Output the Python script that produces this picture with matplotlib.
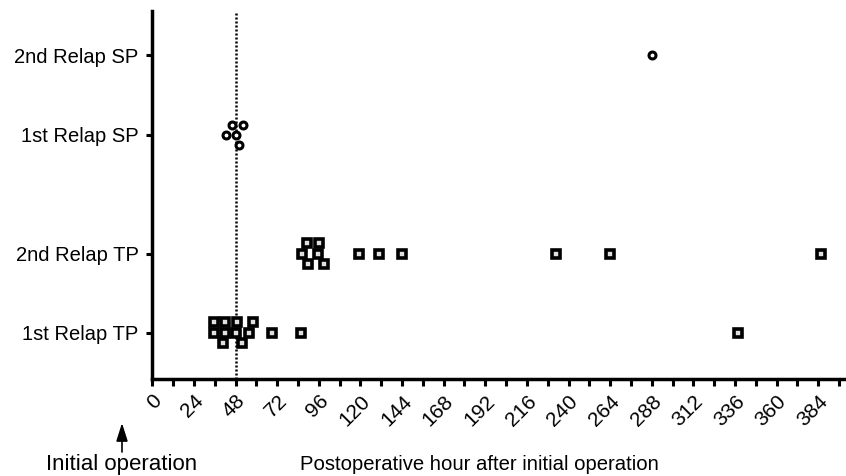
import numpy as np
import matplotlib.pyplot as plt

plt.rcParams['font.family'] = ['Liberation Sans', 'DejaVu Sans']

# groups on the y axis, bottom to top
categories = ['1st Relap TP', '2nd Relap TP', '1st Relap SP', '2nd Relap SP']
category_pos = [1, 2, 3.5, 4.5]

# postoperative hour of each relapse
hours_tp1 = [35.7, 35.7, 40.7, 42.0, 42.0, 48.4, 48.8, 52.0, 55.9, 58.0, 69.0, 85.8, 337.7]
hours_tp2 = [86.6, 89.1, 90.0, 95.8, 96.2, 99.1, 119.4, 130.8, 143.8, 233.0, 263.8, 385.7]
hours_sp1 = [42.6, 45.9, 48.2, 50.1, 52.2]
hours_sp2 = [288.0]

hour_ticks = np.arange(0, 385, 24)
cutoff_hour = 48

fig = plt.figure(figsize=(8.46, 4.76), dpi=100)
ax = fig.add_axes([0.18, 0.204, 0.82, 0.773])
ax.set_xlim(0, 400)
ax.set_ylim(0.42, 5.06)


def swarm_y(xs, y0, min_px=10.5, step_px=10.5):
    """Spread overlapping points into lanes above/below the category line."""
    tr = ax.transData
    px = [tr.transform((x, y0))[0] for x in xs]
    unit_px = tr.transform((0, 1))[1] - tr.transform((0, 0))[1]
    step = step_px / unit_px
    placed = []
    lanes = [0] * len(xs)
    for i in np.argsort(px, kind='stable'):
        for lane in [0, 1, -1, 2, -2, 3, -3]:
            if all(abs(px[i] - p) >= min_px for p, l in placed if l == lane):
                break
        placed.append((px[i], lane))
        lanes[i] = lane
    return [y0 + l * step for l in lanes]


square_style = dict(marker='s', ms=5.4, mfc='#e0e0e0', mec='black', mew=2.6, ls='none', zorder=3)
circle_style = dict(marker='o', ms=5.0, mfc='white', mec='black', mew=2.2, ls='none', zorder=3)

ax.plot(hours_tp1, swarm_y(hours_tp1, category_pos[0]), **square_style)
ax.plot(hours_tp2, swarm_y(hours_tp2, category_pos[1]), **square_style)
ax.plot(hours_sp1, swarm_y(hours_sp1, category_pos[2], min_px=8, step_px=10), **circle_style)
ax.plot(hours_sp2, swarm_y(hours_sp2, category_pos[3]), **circle_style)

ax.axvline(cutoff_hour, color='black', lw=1.8, ls=(0, (0.8, 0.8)), zorder=2)

for side in ['top', 'right']:
    ax.spines[side].set_visible(False)
for side in ['left', 'bottom']:
    ax.spines[side].set_linewidth(2.5)

ax.set_yticks(category_pos)
ax.set_yticklabels(categories, fontsize=14.5)
ax.set_xticks(hour_ticks)
ax.set_xticks(np.arange(12, 400, 24), minor=True)
ax.set_xticklabels([str(h) for h in hour_ticks], fontsize=15, rotation=45,
                   ha='right', va='top', rotation_mode='anchor')
ax.tick_params(axis='x', which='both', length=5, width=2.2, direction='out', pad=4)
ax.tick_params(axis='y', length=4, width=2.2, direction='out', pad=6)

fig.text(0.567, 0.013, 'Postoperative hour after initial operation', ha='center',
         va='baseline', fontsize=14.6)
fig.text(0.144, 0.013, 'Initial operation', ha='center', va='baseline', fontsize=16)
ax.annotate('', xy=(122, 53), xycoords='figure pixels', xytext=(122, 24),
            textcoords='figure pixels',
            arrowprops=dict(arrowstyle='-|>,head_length=1.1,head_width=0.35',
                            color='black', lw=1.2, shrinkA=0, shrinkB=0))

fig.savefig('out.png', dpi=100)
